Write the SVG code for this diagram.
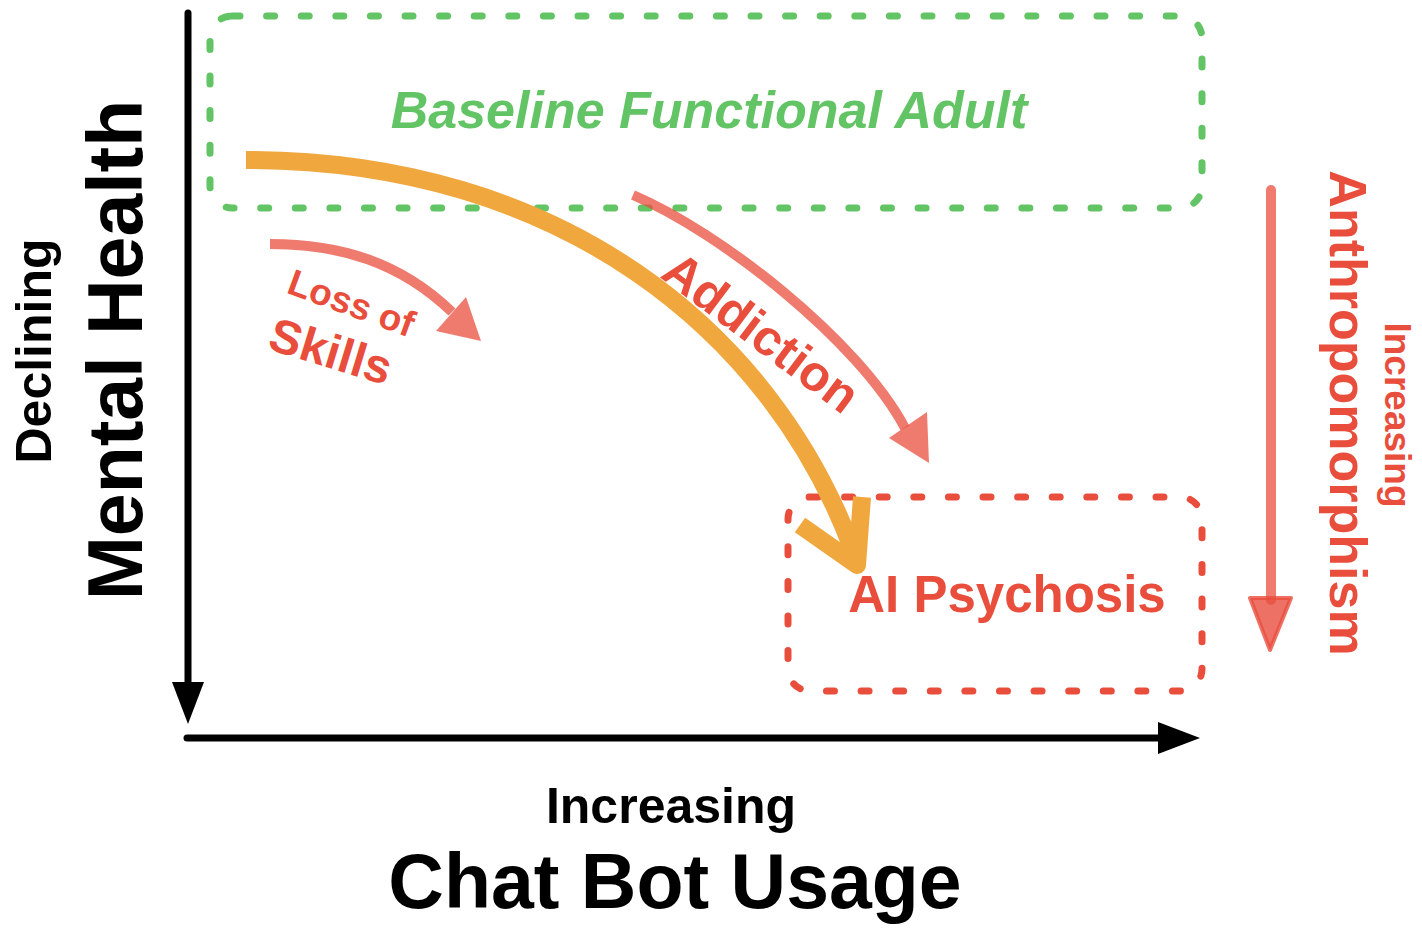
<svg xmlns="http://www.w3.org/2000/svg" width="1422" height="928" viewBox="0 0 1422 928">
<style>
text{font-family:"Liberation Sans",Arial,Helvetica,sans-serif;font-weight:bold}
.blk{fill:#000}
.red{fill:#e94e3d}
.grn{fill:#62c464}
.axis{stroke:#000;stroke-width:7;fill:none;stroke-linecap:round}
.box{fill:none;stroke-width:7;stroke-dasharray:8 26.6;stroke-linecap:round}
.salmon{stroke:#e94e3d;stroke-opacity:0.75;fill:none;stroke-width:10}
.salmonhead{fill:#e94e3d;fill-opacity:0.75;stroke:none}
.orange{stroke:#f0a73d;stroke-width:18;fill:none}
</style>
<defs>
<marker id="ah" viewBox="0 0 42 32" refX="2" refY="16" markerWidth="42" markerHeight="32" markerUnits="userSpaceOnUse" orient="auto">
<path d="M0,0 L42,16 L0,32 Z" fill="#000"/>
</marker>
</defs>

<g id="baseline-box">
<rect class="box" x="210" y="16" width="992" height="192" rx="22" stroke="#62c464"/>
<text class="grn" x="709" y="128" font-size="52" font-style="italic" text-anchor="middle">Baseline Functional Adult</text>
</g>

<g id="psychosis-box">
<rect class="box" x="788" y="497" width="414" height="194" rx="22" stroke="#e94e3d"/>
<text class="red" x="1007" y="612" font-size="51" text-anchor="middle">AI Psychosis</text>
</g>

<g id="connectors">
<path class="axis" d="M188,13 L188,684" marker-end="url(#ah)"/>
<path class="axis" d="M187,738 L1160,738" marker-end="url(#ah)"/>
<path class="orange" d="M246,160 C560,160 770,330 852,548"/>
<polyline class="orange" points="800,525 857,565 862,497" stroke-linejoin="round"/>
<path class="salmon" d="M270,244 C340,244 400,262 452,312"/>
<path class="salmonhead" d="M436,331 L466,297 L481,341 Z"/>
<path class="salmon" d="M633,195 C720,232 858,340 905,428"/>
<path class="salmonhead" d="M889,438 L927,412 L929,463 Z"/>
<path class="salmon" d="M1271,190 L1271,600" stroke-linecap="round"/>
<path d="M1250,598 L1291,598 L1270,650 Z" fill="#e94e3d" fill-opacity="0.8" stroke="#e94e3d" stroke-opacity="0.8" stroke-width="4" stroke-linejoin="round"/>
</g>

<g id="loss-of-skills">
<text class="red" font-size="37" text-anchor="middle" transform="translate(347,315) rotate(20)">Loss of</text>
<text class="red" font-size="48" text-anchor="middle" transform="translate(326,367) rotate(17)">Skills</text>
</g>

<g id="addiction">
<text class="red" font-size="50" text-anchor="middle" transform="translate(751,346) rotate(37)">Addiction</text>
</g>

<g id="y-axis-label">
<text class="blk" font-size="50" text-anchor="middle" transform="translate(51,351) rotate(-90)">Declining</text>
<text class="blk" font-size="77" text-anchor="middle" transform="translate(142,350) rotate(-90)">Mental Health</text>
</g>

<g id="x-axis-label">
<text class="blk" font-size="50" x="671" y="823" text-anchor="middle">Increasing</text>
<text class="blk" font-size="77" x="675" y="908" text-anchor="middle">Chat Bot Usage</text>
</g>

<g id="anthropomorphism-label">
<text class="red" font-size="52" text-anchor="middle" transform="translate(1330,413) rotate(90)">Anthropomorphism</text>
<text class="red" font-size="37" text-anchor="middle" transform="translate(1385,415) rotate(90)">Increasing</text>
</g>
</svg>
